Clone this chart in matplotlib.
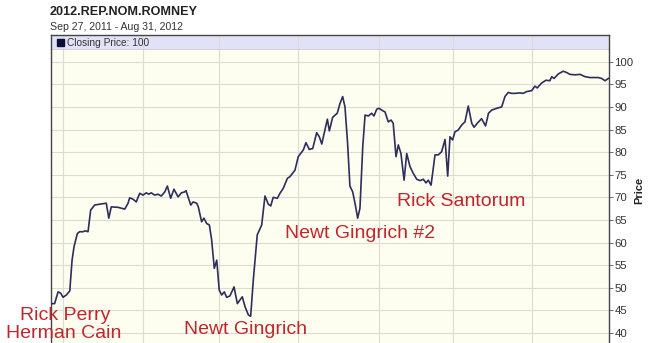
import matplotlib
matplotlib.use("Agg")
import matplotlib.pyplot as plt
from matplotlib.patches import Rectangle

plt.rcParams['font.family'] = ['Liberation Sans', 'DejaVu Sans']

# days since Sep 27, 2011
days = [0, 2.2, 4.3, 5.9, 7.3, 9.3, 11.4, 12.8, 14.0, 16.0, 17.4, 19.4, 20.8, 22.5, 24.1, 26.5,
        29.6, 33.6, 35.1, 36.6, 40.7, 44.8, 46.8, 47.8, 49.8, 51.8, 53.9, 55.9, 57.9, 59.4, 60.9,
        63.0, 65.0, 67.0, 69.1, 70.7, 72.7, 74.7, 77.2, 79.2, 81.2, 82.0, 84.9, 86.4, 88.5, 89.5,
        91.5, 92.9, 94.6, 96.2, 97.6, 99.2, 100.7, 102.2, 103.7, 105.3, 106.7, 108.7, 111.2, 113.2,
        114.8, 116.2, 117.9, 119.9, 121.3, 122.9, 125.3, 128.0, 130.0, 132.0, 133.5, 135.0, 137.5,
        139.1, 141.1, 143.6, 145.2, 148.2, 150.2, 153.3, 154.9, 156.9, 159.0, 161.4, 163.0, 164.5,
        166.5, 167.9, 169.1, 171.1, 173.9, 175.6, 177.2, 178.6, 180.2, 181.6, 183.3, 184.9, 186.3,
        187.7, 189.4, 190.8, 192.8, 194.8, 196.2, 197.9, 199.4, 200.9, 202.9, 204.9, 206.6, 207.9,
        209.6, 211.0, 212.6, 214.5, 216.1, 218.1, 220.1, 222.2, 224.2, 226.2, 227.8, 229.2, 230.9,
        233.3, 235.3, 237.3, 239.4, 241.0, 242.4, 244.0, 245.4, 247.4, 249.5, 251.5, 253.5, 255.6,
        257.0, 259.0, 261.6, 264.0, 265.8, 267.7, 270.8, 273.8, 275.8, 277.8, 279.9, 281.9, 284.9,
        286.9, 289.0, 292.0, 294.0, 295.4, 298.1, 300.7, 303.1, 304.2, 305.6, 308.2, 311.2, 313.3,
        315.3, 318.3, 321.4, 324.4, 327.4, 332.5, 334.5, 336.6, 338.6]
price = [46.5, 46.5, 49.1, 48.8, 47.9, 48.4, 49.3, 56.1, 59.1, 62.0, 62.4, 62.4, 62.6, 62.4, 67.2, 68.3,
         68.5, 68.7, 65.4, 67.9, 67.8, 67.4, 68.7, 69.9, 69.6, 69.0, 70.9, 70.5, 71.0, 70.7, 71.0,
         70.5, 70.7, 70.3, 71.2, 72.5, 69.8, 71.8, 70.1, 71.0, 71.2, 71.5, 68.3, 69.0, 68.7, 67.9,
         64.6, 65.4, 64.2, 63.9, 60.6, 54.3, 56.1, 49.5, 48.4, 49.1, 47.9, 48.2, 50.2, 46.5,
         47.3, 48.0, 45.8, 44.0, 43.7, 51.7, 61.7, 63.9, 70.3, 68.5, 68.1, 70.0, 69.8,
         70.9, 72.0, 74.2, 74.6, 76.0, 79.0, 80.5, 82.1, 80.6, 80.8, 84.3, 83.4, 81.8,
         85.0, 87.3, 84.7, 87.7, 88.6, 90.8, 92.3, 90.0, 81.9, 72.5, 71.2, 68.3, 65.4,
         67.6, 81.2, 88.2, 88.0, 88.6, 88.0, 89.5, 89.7, 89.3, 88.9, 86.7, 87.1, 86.4,
         79.0, 81.6, 79.7, 73.8, 79.7, 76.8, 75.3, 74.0, 73.7, 74.0, 73.2, 73.8, 72.7,
         79.4, 79.4, 80.1, 82.8, 74.7, 83.4, 82.7, 84.5, 84.9, 86.0, 86.7, 90.2, 86.4,
         85.5, 86.4, 87.4, 85.8, 88.6, 89.3, 89.7, 90.0, 92.3, 93.2, 93.0, 93.0, 93.1,
         93.0, 93.4, 93.6, 94.6, 94.2, 95.3, 95.9, 95.8, 96.7, 96.3, 97.3, 97.9, 97.6,
         97.2, 97.1, 97.2, 96.7, 96.5, 96.5, 96.3, 95.8, 96.3]

ytick_values = list(range(40, 101, 5))
vgrid_days = [7.1, 55.7, 102.1, 150.1, 199.4, 244.0, 292.4]

annotations = [
    ("Rick Perry", 65, 315),
    ("Herman Cain", 64, 334),
    ("Newt Gingrich", 245, 330),
    ("Newt Gingrich #2", 360, 234),
    ("Rick Santorum", 461, 201),
]

W, H = 648, 343
fig = plt.figure(figsize=(W / 100, H / 100), dpi=100)
fig.patch.set_facecolor('white')

ax_left, ax_right, ax_top = 51, 609, 35
ax = fig.add_axes([ax_left / W, 0, (ax_right - ax_left) / W, 1 - ax_top / H])
ax.set_facecolor('#fdfdf0')

y_band_bottom = 102.81
ax.set_ylim(37.79, 105.91)
ax.set_xlim(0, 339)
ax.axhspan(y_band_bottom, 106, color='#e2e2f6', zorder=0.3, lw=0)
ax.axhline(y_band_bottom, color='#c8c8dc', lw=0.6, zorder=0.6)

ax.set_yticks(ytick_values)
ax.set_yticklabels([str(v) for v in ytick_values])
ax.set_xticks(vgrid_days)
ax.set_xticklabels([])
ax.yaxis.tick_right()
ax.tick_params(axis='y', length=3, width=0.6, colors='#555555', labelcolor='#333333',
               labelsize=8.2, pad=1)
ax.tick_params(axis='x', length=0)
ax.grid(True, color='#dcdcd2', lw=0.8)
ax.set_axisbelow(True)
for s in ['left', 'right', 'top']:
    ax.spines[s].set_color('#444444')
    ax.spines[s].set_linewidth(1.0)
ax.spines['bottom'].set_visible(False)

ax.plot(days, price, color='#2e2e5c', lw=1.2, zorder=3)

ax.yaxis.set_label_position('right')
ax.set_ylabel('Price', fontsize=8, fontweight='bold', color='#222222')
ax.yaxis.label.set_position((1.0, (343 - 190) / (343 - 35)))
ax.yaxis.set_label_coords(1.046, (343 - 190) / (343 - 35))

# legend band content
fig.patches.append(Rectangle(((ax_left + 6) / W, 1 - 46 / H), 7 / W, 7 / H,
                             transform=fig.transFigure, facecolor='#0d0d3a',
                             edgecolor='#0d0d3a', figure=fig))
fig.text((ax_left + 16) / W, 1 - 42.5 / H, 'Closing Price: 100', fontsize=7.3,
         color='#333333', va='center', ha='left')

fig.text(50 / W, 1 - 12 / H, '2012.REP.NOM.ROMNEY', fontsize=9.1, fontweight='bold',
         color='#222222', va='center', ha='left')
fig.text(50 / W, 1 - 27 / H, 'Sep 27, 2011 - Aug 31, 2012', fontsize=7.6,
         color='#333333', va='center', ha='left')

for label, px, py in annotations:
    fig.text(px / W, 1 - py / H, label, fontsize=14, color='#c0272d',
             ha='center', va='center')

fig.savefig('out.png', dpi=100)
